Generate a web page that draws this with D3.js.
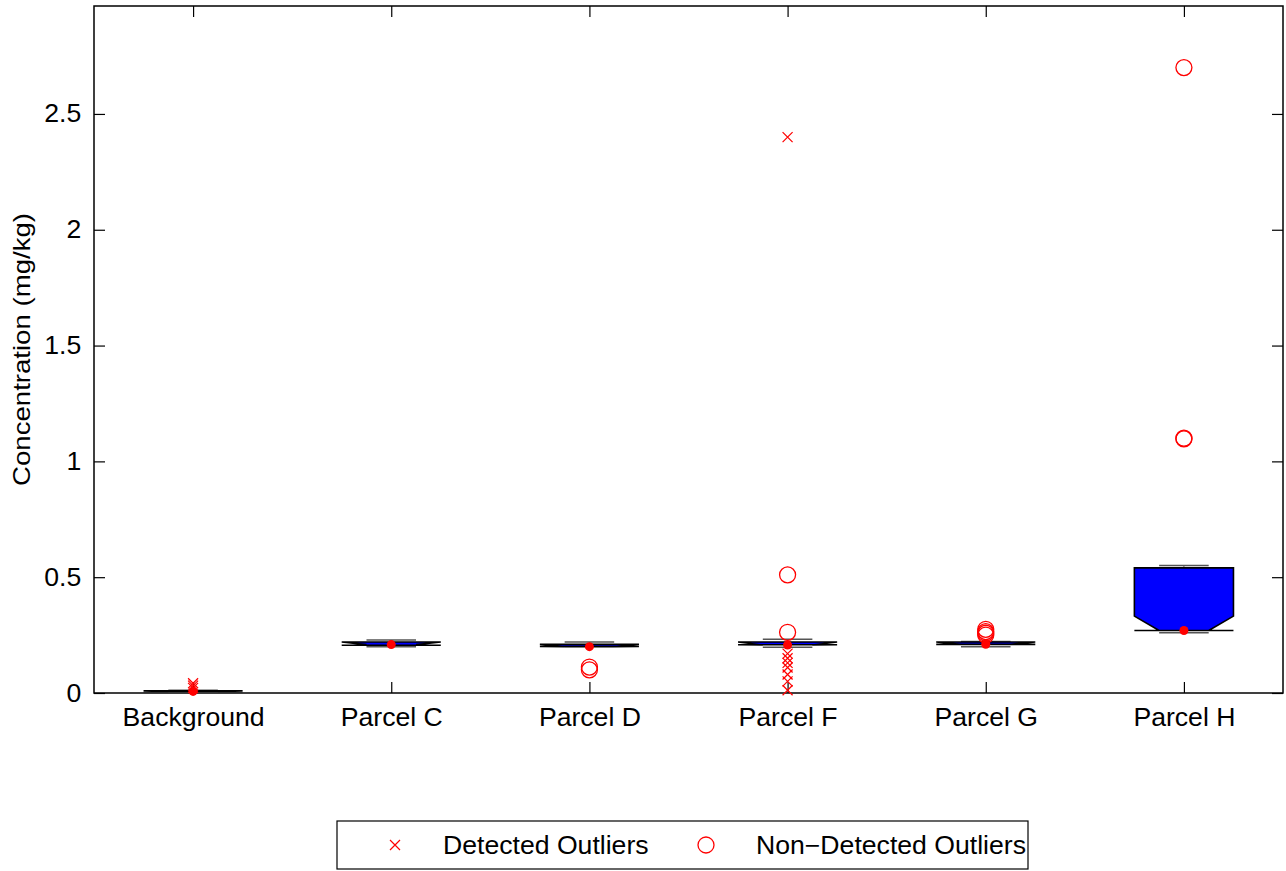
<!DOCTYPE html>
<html>
<head>
<meta charset="utf-8">
<script src="https://cdn.jsdelivr.net/npm/d3@7"></script>
<style>
  body { margin: 0; background: #fff; }
  svg { display: block; font-family: "Liberation Sans", Arial, Helvetica, sans-serif; }
</style>
</head>
<body>
<svg id="chart" width="1286" height="871"></svg>
<script>
// ---- Data ----
const categories = ["Background", "Parcel C", "Parcel D", "Parcel F", "Parcel G", "Parcel H"];
const whiskerLow  = [0.005, 0.200, 0.200, 0.198, 0.200, 0.260];
const quartile1   = [0.007, 0.206, 0.201, 0.208, 0.210, 0.270];
const medians     = [0.007, 0.209, 0.200, 0.207, 0.210, 0.270];
const quartile3   = [0.010, 0.220, 0.210, 0.220, 0.220, 0.540];
const whiskerHigh = [0.012, 0.229, 0.220, 0.232, 0.222, 0.550];
const notchLow    = [0.007, 0.206, 0.201, 0.208, 0.210, 0.270];
const notchHigh   = [0.010, 0.220, 0.210, 0.220, 0.220, 0.332];
const detectedOutliers = [
  [0.042, 0.032, 0.022],
  [],
  [],
  [2.40, 0.17, 0.15, 0.13, 0.11, 0.08, 0.05, 0.012],
  [],
  []
];
const nonDetectedOutliers = [
  [],
  [],
  [0.112, 0.100],
  [0.51, 0.262],
  [0.275, 0.265, 0.258, 0.25],
  [2.70, 1.10, 1.097]
];
const yTicks = [0, 0.5, 1, 1.5, 2, 2.5];
const yLabel = "Concentration (mg/kg)";
const legendLabels = ["Detected Outliers", "Non\u2212Detected Outliers"];

(function () {
// ---- Layout ----
const svg = d3.select("#chart");
const pLeft = 94, pRight = 1283, pTop = 6, pBottom = 693;
const x = d3.scalePoint().domain(categories).range([pLeft, pRight]).padding(0.5);
const y = d3.scaleLinear().domain([0, 2.966]).range([pBottom, pTop]);
const step = x.step();
const boxHalf = step * 0.25;
const capHalf = step * 0.125;
const tickLen = 11;
const stretch = 1.065;

// axes
const gLeft = svg.append("g").attr("transform", `translate(${pLeft},0)`)
  .call(d3.axisLeft(y).tickValues(yTicks).tickFormat(d3.format("")).tickSizeInner(-tickLen).tickSizeOuter(0).tickPadding(12));
const gRight = svg.append("g").attr("transform", `translate(${pRight},0)`)
  .call(d3.axisRight(y).tickValues(yTicks).tickFormat("").tickSizeInner(-tickLen).tickSizeOuter(0));
const gBottom = svg.append("g").attr("transform", `translate(0,${pBottom})`)
  .call(d3.axisBottom(x).tickSizeInner(-tickLen).tickSizeOuter(0).tickPadding(15));
const gTop = svg.append("g").attr("transform", `translate(0,${pTop})`)
  .call(d3.axisTop(x).tickFormat("").tickSizeInner(-tickLen).tickSizeOuter(0));
[gLeft, gRight, gBottom, gTop].forEach(g => {
  g.select(".domain").remove();
  g.selectAll(".tick line").attr("stroke", "#000").attr("stroke-width", 1.2);
  g.selectAll(".tick text").attr("fill", "#000").style("font-size", "25px")
    .style("font-family", "'Liberation Sans', Arial, sans-serif")
    .attr("transform", `scale(${stretch},1)`);
});
svg.append("rect").attr("x", pLeft).attr("y", pTop).attr("width", pRight - pLeft).attr("height", pBottom - pTop)
  .attr("fill", "none").attr("stroke", "#000").attr("stroke-width", 1.5);

// y label
svg.append("text")
  .attr("transform", `translate(30,${(pTop + pBottom) / 2}) rotate(-90) scale(1.2,1)`)
  .attr("text-anchor", "middle")
  .style("font-size", "23px")
  .text(yLabel);

// boxes
const plot = svg.append("g");
categories.forEach((c, i) => {
  const cx = x(c);
  plot.append("line").attr("x1", cx).attr("x2", cx).attr("y1", y(quartile3[i])).attr("y2", y(whiskerHigh[i]))
    .attr("stroke", "#555").attr("stroke-width", 1);
  plot.append("line").attr("x1", cx).attr("x2", cx).attr("y1", y(quartile1[i])).attr("y2", y(whiskerLow[i]))
    .attr("stroke", "#555").attr("stroke-width", 1);
  [whiskerHigh[i], whiskerLow[i]].forEach(v => {
    plot.append("line").attr("x1", cx - capHalf).attr("x2", cx + capHalf).attr("y1", y(v)).attr("y2", y(v))
      .attr("stroke", "#555").attr("stroke-width", 1.5);
  });
  const L = cx - boxHalf, R = cx + boxHalf, Ln = cx - boxHalf * 0.5, Rn = cx + boxHalf * 0.5;
  const pts = [
    [L, y(quartile3[i])], [L, y(notchHigh[i])], [Ln, y(medians[i])], [L, y(notchLow[i])], [L, y(quartile1[i])],
    [R, y(quartile1[i])], [R, y(notchLow[i])], [Rn, y(medians[i])], [R, y(notchHigh[i])], [R, y(quartile3[i])]
  ];
  plot.append("polygon").attr("points", pts.map(p => p.join(",")).join(" "))
    .attr("fill", "#0000ff").attr("stroke", "#000").attr("stroke-width", 1.6).attr("stroke-linejoin", "miter");
  plot.append("circle").attr("cx", cx).attr("cy", y(medians[i])).attr("r", 4.5).attr("fill", "#ff0000");
  detectedOutliers[i].forEach(v => {
    const s = 5;
    plot.append("path").attr("d", `M${cx - s},${y(v) - s}L${cx + s},${y(v) + s}M${cx - s},${y(v) + s}L${cx + s},${y(v) - s}`)
      .attr("stroke", "#ff0000").attr("stroke-width", 1.2).attr("fill", "none");
  });
  nonDetectedOutliers[i].forEach(v => {
    plot.append("circle").attr("cx", cx).attr("cy", y(v)).attr("r", 8)
      .attr("fill", "none").attr("stroke", "#ff0000").attr("stroke-width", 1.3);
  });
});

// legend
const lg = svg.append("g");
lg.append("rect").attr("x", 337).attr("y", 821).attr("width", 691).attr("height", 48)
  .attr("fill", "#fff").attr("stroke", "#000").attr("stroke-width", 1.2);
const ly = 845;
lg.append("path").attr("d", `M${395 - 5},${ly - 5}L${395 + 5},${ly + 5}M${395 - 5},${ly + 5}L${395 + 5},${ly - 5}`)
  .attr("stroke", "#ff0000").attr("stroke-width", 1.2);
lg.append("text").attr("transform", `translate(443,${ly}) scale(${stretch},1)`).attr("dy", "0.35em")
  .style("font-size", "25px").text(legendLabels[0]);
lg.append("circle").attr("cx", 706).attr("cy", ly).attr("r", 8).attr("fill", "none").attr("stroke", "#ff0000").attr("stroke-width", 1.3);
lg.append("text").attr("transform", `translate(756,${ly}) scale(${stretch},1)`).attr("dy", "0.35em")
  .style("font-size", "25px").text(legendLabels[1]);
})();
</script>
</body>
</html>
